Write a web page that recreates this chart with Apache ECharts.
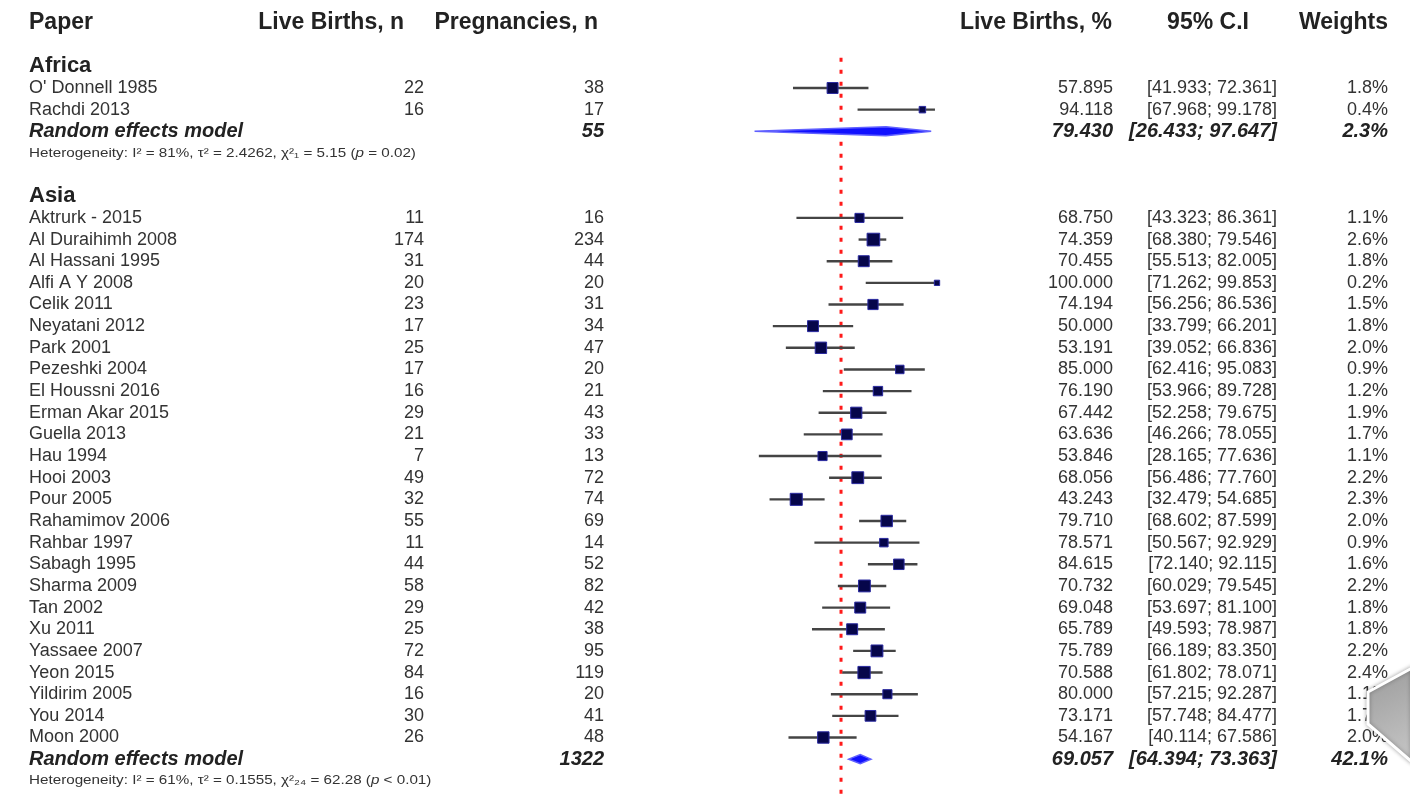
<!DOCTYPE html>
<html><head><meta charset="utf-8">
<script src="https://cdn.jsdelivr.net/npm/echarts@6/dist/echarts.min.js"></script>
<style>html,body{margin:0;padding:0;background:#fff}#c{width:1410px;height:799px}</style>
</head><body><div id="c"></div>
<script>
// ---------- DATA ----------
const headers = ['Paper', 'Live Births, n', 'Pregnancies, n', 'Live Births, %', '95% C.I', 'Weights'];

const africaName = 'Africa';
const africaPapers = ["O' Donnell 1985", 'Rachdi 2013'];
const africaEvents = [22, 16];
const africaTotals = [38, 17];
const africaEst = [57.895, 94.118];
const africaLower = [41.933, 67.968];
const africaUpper = [72.361, 99.178];
const africaWeights = [1.8, 0.4];
// pooled: total, estimate, lower, upper, weight
const africaPooled = [55, 79.430, 26.433, 97.647, 2.3];
const africaHet = ['81%', '2.4262', '1', '5.15', 'p = 0.02'];

const asiaName = 'Asia';
const asiaPapers = ['Aktrurk - 2015', 'Al Duraihimh 2008', 'Al Hassani 1995', 'Alfi A Y 2008', 'Celik 2011',
  'Neyatani 2012', 'Park 2001', 'Pezeshki 2004', 'El Houssni 2016', 'Erman Akar 2015', 'Guella 2013',
  'Hau 1994', 'Hooi 2003', 'Pour 2005', 'Rahamimov 2006', 'Rahbar 1997', 'Sabagh 1995', 'Sharma 2009',
  'Tan 2002', 'Xu 2011', 'Yassaee 2007', 'Yeon 2015', 'Yildirim 2005', 'You 2014', 'Moon 2000'];
const asiaEvents = [11, 174, 31, 20, 23, 17, 25, 17, 16, 29, 21, 7, 49, 32, 55, 11, 44, 58, 29, 25, 72, 84, 16, 30, 26];
const asiaTotals = [16, 234, 44, 20, 31, 34, 47, 20, 21, 43, 33, 13, 72, 74, 69, 14, 52, 82, 42, 38, 95, 119, 20, 41, 48];
const asiaEst = [68.750, 74.359, 70.455, 100.000, 74.194, 50.000, 53.191, 85.000, 76.190, 67.442, 63.636,
  53.846, 68.056, 43.243, 79.710, 78.571, 84.615, 70.732, 69.048, 65.789, 75.789, 70.588, 80.000, 73.171, 54.167];
const asiaLower = [43.323, 68.380, 55.513, 71.262, 56.256, 33.799, 39.052, 62.416, 53.966, 52.258, 46.266,
  28.165, 56.486, 32.479, 68.602, 50.567, 72.140, 60.029, 53.697, 49.593, 66.189, 61.802, 57.215, 57.748, 40.114];
const asiaUpper = [86.361, 79.546, 82.005, 99.853, 86.536, 66.201, 66.836, 95.083, 89.728, 79.675, 78.055,
  77.636, 77.760, 54.685, 87.599, 92.929, 92.115, 79.545, 81.100, 78.987, 83.350, 78.071, 92.287, 84.477, 67.586];
const asiaWeights = [1.1, 2.6, 1.8, 0.2, 1.5, 1.8, 2.0, 0.9, 1.2, 1.9, 1.7, 1.1, 2.2, 2.3, 2.0, 0.9, 1.6, 2.2,
  1.8, 1.8, 2.2, 2.4, 1.1, 1.7, 2.0];
const asiaPooled = [1322, 69.057, 64.394, 73.363, 42.1];
const asiaHet = ['61%', '0.1555', '24', '62.28', 'p < 0.01'];

const refValue = 61.3;   // red dotted reference line

// ---------- LAYOUT ----------
const FONT = "'Liberation Sans', Arial, sans-serif";
const COLX = { paper: 29, ev: 424, tot: 604, est: 1113, ci: 1277, w: 1388 };
const HDRX = [29, 404, 598, 1112, 1208, 1388];
const HDRALIGN = ['left', 'right', 'right', 'right', 'center', 'right'];

const groups = [
  { name: africaName, papers: africaPapers, ev: africaEvents, tot: africaTotals, est: africaEst, lo: africaLower, hi: africaUpper, w: africaWeights, pooled: africaPooled, het: africaHet },
  { name: asiaName, papers: asiaPapers, ev: asiaEvents, tot: asiaTotals, est: asiaEst, lo: asiaLower, hi: asiaUpper, w: asiaWeights, pooled: asiaPooled, het: asiaHet }
];

const cells = [];   // text cells
const studies = []; // [est, row, lo, hi, weight]
const diamonds = []; // [est, row, lo, hi]
const textColor = '#333';

headers.forEach((h, i) => cells.push({ row: -3, x: HDRX[i], align: HDRALIGN[i], text: h, font: 'bold 23px ' + FONT, color: '#222' }));

let r = -1;
groups.forEach(g => {
  cells.push({ row: r, x: COLX.paper, align: 'left', text: g.name, font: 'bold 22px ' + FONT, color: '#222' });
  r++;
  g.papers.forEach((p, i) => {
    const f = '18px ' + FONT;
    cells.push({ row: r, x: COLX.paper, align: 'left', text: p, font: f, color: textColor });
    cells.push({ row: r, x: COLX.ev, align: 'right', text: String(g.ev[i]), font: f, color: textColor });
    cells.push({ row: r, x: COLX.tot, align: 'right', text: String(g.tot[i]), font: f, color: textColor });
    cells.push({ row: r, x: COLX.est, align: 'right', text: g.est[i].toFixed(3), font: f, color: textColor });
    cells.push({ row: r, x: COLX.ci, align: 'right', text: '[' + g.lo[i].toFixed(3) + '; ' + g.hi[i].toFixed(3) + ']', font: f, color: textColor });
    cells.push({ row: r, x: COLX.w, align: 'right', text: g.w[i].toFixed(1) + '%', font: f, color: textColor });
    studies.push([g.est[i], r, g.lo[i], g.hi[i], g.w[i]]);
    r++;
  });
  const pf = 'italic bold 20px ' + FONT;
  const P = g.pooled;
  cells.push({ row: r, x: COLX.paper, align: 'left', text: 'Random effects model', font: pf, color: '#222' });
  cells.push({ row: r, x: COLX.tot, align: 'right', text: String(P[0]), font: pf, color: '#222' });
  cells.push({ row: r, x: COLX.est, align: 'right', text: P[1].toFixed(3), font: pf, color: '#222' });
  cells.push({ row: r, x: COLX.ci, align: 'right', text: '[' + P[2].toFixed(3) + '; ' + P[3].toFixed(3) + ']', font: pf, color: '#222' });
  cells.push({ row: r, x: COLX.w, align: 'right', text: P[4].toFixed(1) + '%', font: pf, color: '#222' });
  diamonds.push([P[1], r, P[2], P[3]]);
  r++;
  const H = g.het;
  const sub = H[2].split('').map(c => '₀₁₂₃₄₅₆₇₈₉'[+c]).join('');
  cells.push({ row: r, x: COLX.paper, align: 'left', het: true,
    text: 'Heterogeneity: I² = ' + H[0] + ', τ² = ' + H[1] + ', χ²' + sub + ' = ' + H[3] + ' ({i|' + H[4].slice(0, 1) + '}' + H[4].slice(1) + ')',
    font: '13px ' + FONT, color: '#333' });
  r += 2;
});

// ---------- CHART ----------
const chart = echarts.init(document.getElementById('c'), null, { renderer: 'canvas' });
const ROWH = 21.65;
const YMIN = -4, YMAX = 32.8;
chart.setOption({
  animation: false,
  backgroundColor: '#fff',
  grid: { left: 689, width: 248, top: 88 + YMIN * ROWH, height: (YMAX - YMIN) * ROWH },
  xAxis: { type: 'value', min: 0, max: 100, show: false },
  yAxis: { type: 'value', min: YMIN, max: YMAX, inverse: true, show: false },
  series: [
    {
      type: 'line', data: [[refValue, -1.4], [refValue, YMAX]], showSymbol: false, z: 1,
      lineStyle: { color: '#ff1a1a', width: 3, type: [4, 8] }
    },
    {
      type: 'custom', z: 2, clip: false,
      data: studies,
      encode: { x: 0, y: 1 },
      renderItem: function (params, api) {
        const est = api.value(0), row = api.value(1), lo = api.value(2), hi = api.value(3), w = api.value(4);
        const a = api.coord([lo, row]), b = api.coord([hi, row]), c = api.coord([est, row]);
        const s = 2.5 + 6.3 * Math.sqrt(w);
        return {
          type: 'group', children: [
            { type: 'line', shape: { x1: a[0], y1: a[1], x2: b[0], y2: b[1] }, style: { stroke: '#444', lineWidth: 2.4 } },
            { type: 'rect', shape: { x: c[0] - s / 2, y: c[1] - s / 2, width: s, height: s }, style: { fill: '#06064a', stroke: '#2a2aa0', lineWidth: 1 } }
          ]
        };
      }
    },
    {
      type: 'custom', z: 3, clip: false,
      data: diamonds,
      encode: { x: 0, y: 1 },
      renderItem: function (params, api) {
        const est = api.value(0), row = api.value(1), lo = api.value(2), hi = api.value(3);
        const a = api.coord([lo, row]), b = api.coord([hi, row]), c = api.coord([est, row]);
        const h = 4.5;
        return {
          type: 'polygon',
          shape: { points: [[a[0], a[1]], [c[0], c[1] - h], [b[0], b[1]], [c[0], c[1] + h]] },
          style: { fill: '#1010ff', stroke: '#6060ff', lineWidth: 1.5 }
        };
      }
    },
    {
      type: 'custom', z: 4, clip: false, silent: true,
      data: cells.map(c => [0, c.row]),
      encode: { x: 0, y: 1 },
      renderItem: function (params, api) {
        const c = cells[params.dataIndex];
        const y = api.coord([0, c.row])[1];
        const st = { text: c.text, fill: c.color, font: c.font, align: c.align, verticalAlign: 'middle' };
        const el = { type: 'text', x: c.x, y: y, style: st };
        if (c.het) {
          st.rich = { i: { fontStyle: 'italic', fontSize: 13, fontFamily: FONT, fill: c.color } };
          el.scaleX = 1.17;
        }
        return el;
      }
    }
  ],
  graphic: [{
    type: 'polygon', z: 100,
    shape: { points: [[1368, 692], [1412, 668], [1412, 762], [1368, 724]] },
    style: {
      fill: new echarts.graphic.LinearGradient(0, 0, 1, 1, [{ offset: 0, color: '#9a9a9a' }, { offset: 1, color: '#c8c8c8' }]),
      stroke: '#fff', lineWidth: 3, shadowBlur: 4, shadowColor: 'rgba(0,0,0,0.3)'
    }
  }]
});
</script></body></html>
